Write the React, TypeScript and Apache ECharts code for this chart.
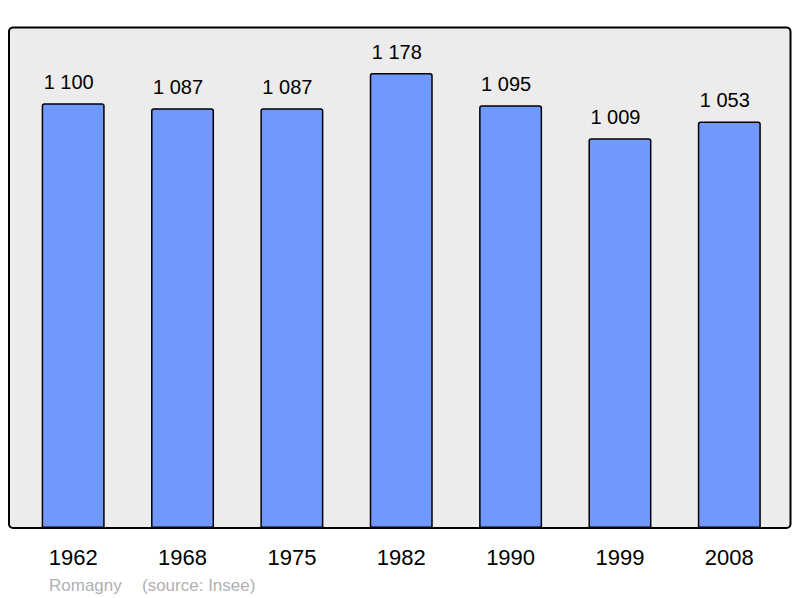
import React, { useEffect, useRef } from "react";
import * as echarts from "echarts";

const years = ["1962", "1968", "1975", "1982", "1990", "1999", "2008"];
const population = [1100, 1087, 1087, 1178, 1095, 1009, 1053];
const footerPlace = "Romagny";
const footerSource = "(source: Insee)";

const fmt = (v: number) => {
  const s = String(v);
  return s.length > 3 ? s.slice(0, s.length - 3) + " " + s.slice(-3) : s;
};

export default function App() {
  const ref = useRef<HTMLDivElement>(null);
  useEffect(() => {
    const chart = echarts.init(ref.current!, null, { renderer: "svg" });
    chart.setOption({
      animation: false,
      textStyle: { fontFamily: "Liberation Sans, Arial, sans-serif" },
      graphic: [
        {
          type: "rect",
          z: -10,
          shape: { x: 9, y: 27.5, width: 781.5, height: 500.5, r: 4 },
          style: { fill: "#ececec", stroke: "#000", lineWidth: 2 },
        },
        {
          type: "text",
          x: 49,
          y: 585,
          style: {
            text: footerPlace,
            fill: "#b0b0b0",
            font: "17px Liberation Sans, Arial, sans-serif",
            verticalAlign: "middle",
          },
        },
        {
          type: "text",
          x: 142,
          y: 585,
          style: {
            text: footerSource,
            fill: "#b0b0b0",
            font: "17px Liberation Sans, Arial, sans-serif",
            verticalAlign: "middle",
          },
        },
      ],
      grid: { left: 18.5, right: 16, top: 26, bottom: 70, containLabel: false },
      xAxis: {
        type: "category",
        data: years,
        axisLine: { show: false },
        axisTick: { show: false },
        axisLabel: {
          color: "#000",
          fontSize: 22,
          margin: 18,
          fontFamily: "Liberation Sans, Arial, sans-serif",
        },
      },
      yAxis: {
        type: "value",
        min: 0,
        max: 1300,
        show: false,
        splitLine: { show: false },
      },
      series: [
        {
          type: "bar",
          data: population,
          barWidth: 63,
          itemStyle: {
            color: "#7198ff",
            borderColor: "#000",
            borderWidth: 1.5,
            borderRadius: [2, 2, 0, 0],
          },
          label: {
            show: true,
            position: "top",
            distance: 11,
            offset: [-4.5, 0],
            color: "#000",
            fontSize: 20,
            fontFamily: "Liberation Sans, Arial, sans-serif",
            formatter: (p: any) => fmt(p.value),
          },
        },
      ],
    });
    return () => chart.dispose();
  }, []);
  return <div ref={ref} style={{ width: 800, height: 598, position: "absolute", left: 0, top: 0 }} />;
}
